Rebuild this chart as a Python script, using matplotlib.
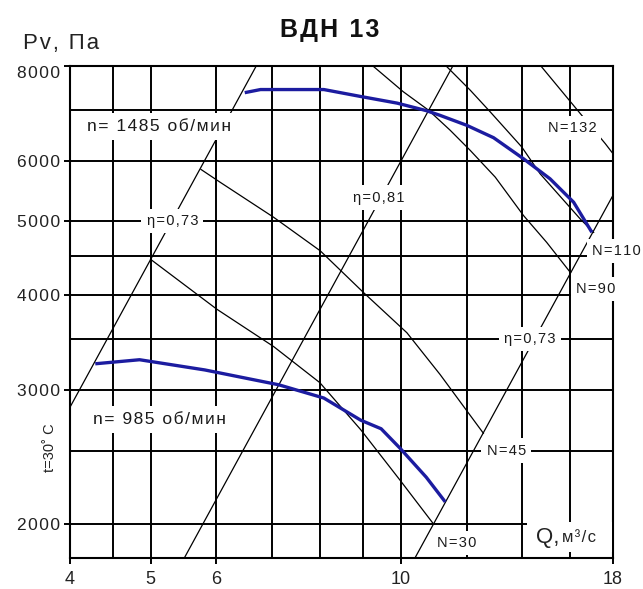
import matplotlib
matplotlib.use("Agg")
import matplotlib.pyplot as plt
from matplotlib.ticker import NullFormatter

plt.rcParams['font.family'] = ['Liberation Sans', 'DejaVu Sans']

# ---- data ----
n1485_Q = [6.49, 6.78, 8.08, 8.95, 9.90, 10.73, 11.15, 12.0, 12.93, 14.05, 15.12, 16.14, 16.98]
n1485_P = [7380, 7450, 7450, 7295, 7150, 6990, 6890, 6687, 6440, 6042, 5687, 5298, 4836]

n985_Q = [4.29, 4.85, 5.81, 7.13, 8.08, 8.95, 9.47, 9.98, 10.73, 11.31]
n985_P = [3250, 3290, 3190, 3050, 2930, 2740, 2670, 2517, 2306, 2140]

eta073_left_Q = [4.0, 6.70]
eta073_left_P = [2850, 8000]
eta081_Q = [5.49, 11.55]
eta081_P = [1806, 8000]
eta073_right_Q = [10.40, 18.0]
eta073_right_P = [1806, 5411]

N30_Q = [5.0, 6.01, 7.03, 7.99, 8.95, 9.98, 10.94]
N30_P = [4458, 3832, 3424, 3070, 2662, 2285, 2004]
N45_Q = [5.75, 6.06, 7.03, 8.0, 9.02, 10.17, 11.15, 12.57]
N45_P = [5850, 5630, 5063, 4574, 4031, 3570, 3146, 2634]
N90_Q = [9.23, 10.07, 10.80, 11.47, 12.12, 12.99, 14.05, 14.98, 16.0]
N90_P = [8022, 7400, 6998, 6584, 6198, 5716, 5088, 4692, 4282]
N110_Q = [11.31, 12.12, 12.81, 13.98, 14.71, 16.44, 17.06]
N110_P = [8022, 7436, 6964, 6262, 5774, 5036, 4836]
N132_Q = [14.71, 16.44, 17.62, 18.0]
N132_P = [8022, 6928, 6325, 6136]

x_major = [4, 5, 6, 10, 18]
x_major_labels = ['4', '5', '6', '10', '18']
x_minor = [4.5, 7, 8, 9, 12, 14, 16]
y_major = [2000, 3000, 4000, 5000, 6000, 8000]
y_major_labels = ['2000', '3000', '4000', '5000', '6000', '8000']
y_minor = [2500, 3500, 4500, 7000]

HS = '\u200a'  # hair space used as letter spacing


def spaced(s):
    return HS.join(s)


# ---- figure ----
W, H = 643, 589
fig = plt.figure(figsize=(W / 100, H / 100), dpi=100)
ax = fig.add_axes([70 / W, 31 / H, 543 / W, 492 / H])
ax.set_xscale('log')
ax.set_yscale('log')
ax.set_xlim(4, 18)
ax.set_ylim(1806, 8000)

ax.set_xticks(x_major, x_major_labels)
ax.set_xticks(x_minor, minor=True)
ax.xaxis.set_minor_formatter(NullFormatter())
ax.set_yticks(y_major, [spaced(s) for s in y_major_labels])
ax.set_yticks(y_minor, minor=True)
ax.yaxis.set_minor_formatter(NullFormatter())

ax.grid(True, which='both', color='black', linewidth=1.4)
ax.set_axisbelow(True)
ax.tick_params(which='major', direction='out', length=4, width=1.4,
               labelcolor='#222222', color='black', pad=5)
ax.tick_params(axis='x', which='major', labelsize=13)
ax.tick_params(axis='y', which='major', labelsize=12.5, pad=3)
ax.tick_params(which='minor', length=0)
ax.yaxis.get_major_ticks()[-1].label1.set_va('top')
for s in ax.spines.values():
    s.set_linewidth(1.5)
    s.set_zorder(2.5)

thin = dict(color='black', linewidth=0.9, zorder=2)
ax.plot(eta073_left_Q, eta073_left_P, **thin)
ax.plot(eta081_Q, eta081_P, **thin)
ax.plot(eta073_right_Q, eta073_right_P, **thin)
ax.plot(N30_Q, N30_P, **thin)
ax.plot(N45_Q, N45_P, **thin)
ax.plot(N90_Q, N90_P, **thin)
ax.plot(N110_Q, N110_P, **thin)
ax.plot(N132_Q, N132_P, **thin)

blue = '#1c1ca0'
ax.plot(n1485_Q, n1485_P, color=blue, linewidth=2.4, zorder=3,
        solid_capstyle='butt', solid_joinstyle='round')
ax.plot(n985_Q, n985_P, color=blue, linewidth=2.4, zorder=3,
        solid_capstyle='butt', solid_joinstyle='round')

box = dict(facecolor='white', edgecolor='none', boxstyle='square,pad=0.35')


def lab(q, p, s, size=10.5, **kw):
    ax.text(q, p, spaced(s), ha='center', va='center', fontsize=size, color='#1a1a1a',
            bbox=box, zorder=6, clip_on=False, **kw)


lab(5.31, 5000, 'η=0,73')
lab(9.42, 5374, 'η=0,81')
lab(14.31, 3500, 'η=0,73')
lab(16.07, 6625, 'N=132')
lab(18.15, 4575, 'N=110')
lab(17.18, 4075, 'N=90')
lab(13.39, 2500, 'N=45')
lab(11.66, 1890, 'N=30')
lab(5.12, 6664, 'n= 1485 об/мин', size=12.5)
lab(5.12, 2746, 'n= 985 об/мин', size=12.5)

# Q axis caption: large Q, smaller units, on a white patch
ax.text(15.96, 1924, ' ' * 13, ha='center', va='center', fontsize=15,
        bbox=dict(facecolor='white', edgecolor='none', boxstyle='square,pad=0.25'),
        zorder=5)
ax.text(14.55, 1924, 'Q,', ha='left', va='center', fontsize=16, color='#222222',
        zorder=6)
ax.text(15.62, 1924, spaced('м³/с'), ha='left', va='center', fontsize=12,
        color='#222222', zorder=6)

fig.text(330 / W, 1 - 30 / H, spaced('ВДН 13'), ha='center', va='center', fontsize=18,
         fontweight='bold', color='#111111')
fig.text(61 / W, 1 - 43 / H, spaced('Pv, Па'), ha='center', va='center', fontsize=16,
         color='#222222')
fig.text(50 / W, 1 - 448 / H, 't=30˚ C', ha='center', va='center', fontsize=10.5,
         rotation=90, color='#222222')

fig.savefig('out.png', dpi=100, facecolor='white')
